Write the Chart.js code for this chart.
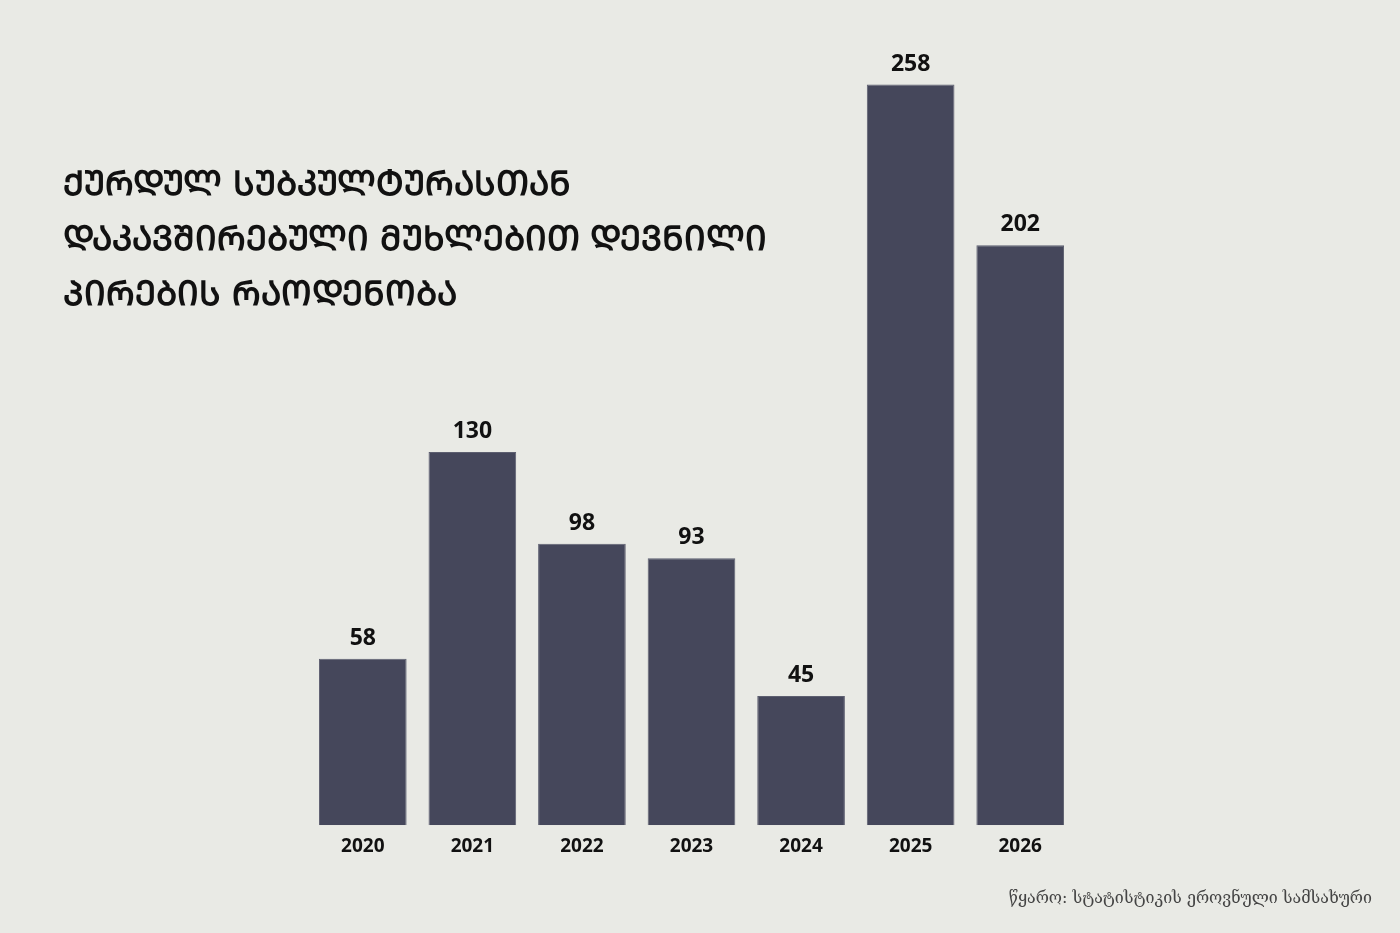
<!DOCTYPE html>
<html>
<head>
<meta charset="utf-8">
<script src="https://cdn.jsdelivr.net/npm/chart.js@4/dist/chart.umd.min.js"></script>
<style>
  html, body { margin: 0; padding: 0; background: #e9eae5; }
  #wrap { position: relative; width: 1400px; height: 933px; }
  #title {
    position: absolute; left: 63px; top: 156px;
    font-family: "DejaVu Sans Condensed", "DejaVu Sans", sans-serif;
    font-weight: bold; font-size: 34px; line-height: 55px; color: #111;
  }
  #source {
    position: absolute; right: 28px; top: 888px;
    font-family: "DejaVu Serif", serif; font-size: 16px; color: #444;
  }
</style>
</head>
<body>
<div id="wrap">
  <canvas id="chart" width="1400" height="933"></canvas>
  <div id="title"></div>
  <div id="source">წყარო: სტატისტიკის ეროვნული სამსახური</div>
</div>
<script>
const years  = ['2020', '2021', '2022', '2023', '2024', '2025', '2026'];
const counts = [58, 130, 98, 93, 45, 258, 202];
const titleLines = [
  'ქურდულ სუბკულტურასთან',
  'დაკავშირებული მუხლებით დევნილი',
  'პირების რაოდენობა'
];

// Mkhedruli -> Mtavruli
const toMtavruli = s => s.replace(/[\u10D0-\u10FA]/g, c => String.fromCharCode(c.charCodeAt(0) + 0xBC0));
document.getElementById('title').innerHTML = titleLines.map(toMtavruli).join('<br>');

const valueLabels = {
  id: 'valueLabels',
  afterDatasetsDraw(chart) {
    const ctx = chart.ctx;
    ctx.save();
    ctx.font = 'bold 23px "Open Sans", sans-serif';
    ctx.fillStyle = '#111';
    ctx.textAlign = 'center';
    ctx.textBaseline = 'bottom';
    chart.getDatasetMeta(0).data.forEach((bar, i) => {
      ctx.fillText(counts[i], bar.x, bar.y - 9);
    });
    ctx.restore();
  }
};

new Chart(document.getElementById('chart'), {
  type: 'bar',
  data: {
    labels: years,
    datasets: [{
      data: counts,
      backgroundColor: '#45475b',
      borderColor: '#5d5f70',
      borderWidth: 1,
      categoryPercentage: 0.8,
      barPercentage: 1.0
    }]
  },
  options: {
    responsive: false,
    animation: false,
    layout: { padding: { left: 308, right: 325, top: 50, bottom: 65 } },
    plugins: { legend: { display: false }, tooltip: { enabled: false } },
    scales: {
      x: {
        grid: { display: false, drawTicks: false },
        border: { display: false },
        ticks: { color: '#111', padding: 10, font: { family: '"Open Sans", sans-serif', size: 19, weight: 'bold' } }
      },
      y: { display: false, min: 0, max: 270 }
    }
  },
  plugins: [valueLabels]
});
</script>
</body>
</html>
